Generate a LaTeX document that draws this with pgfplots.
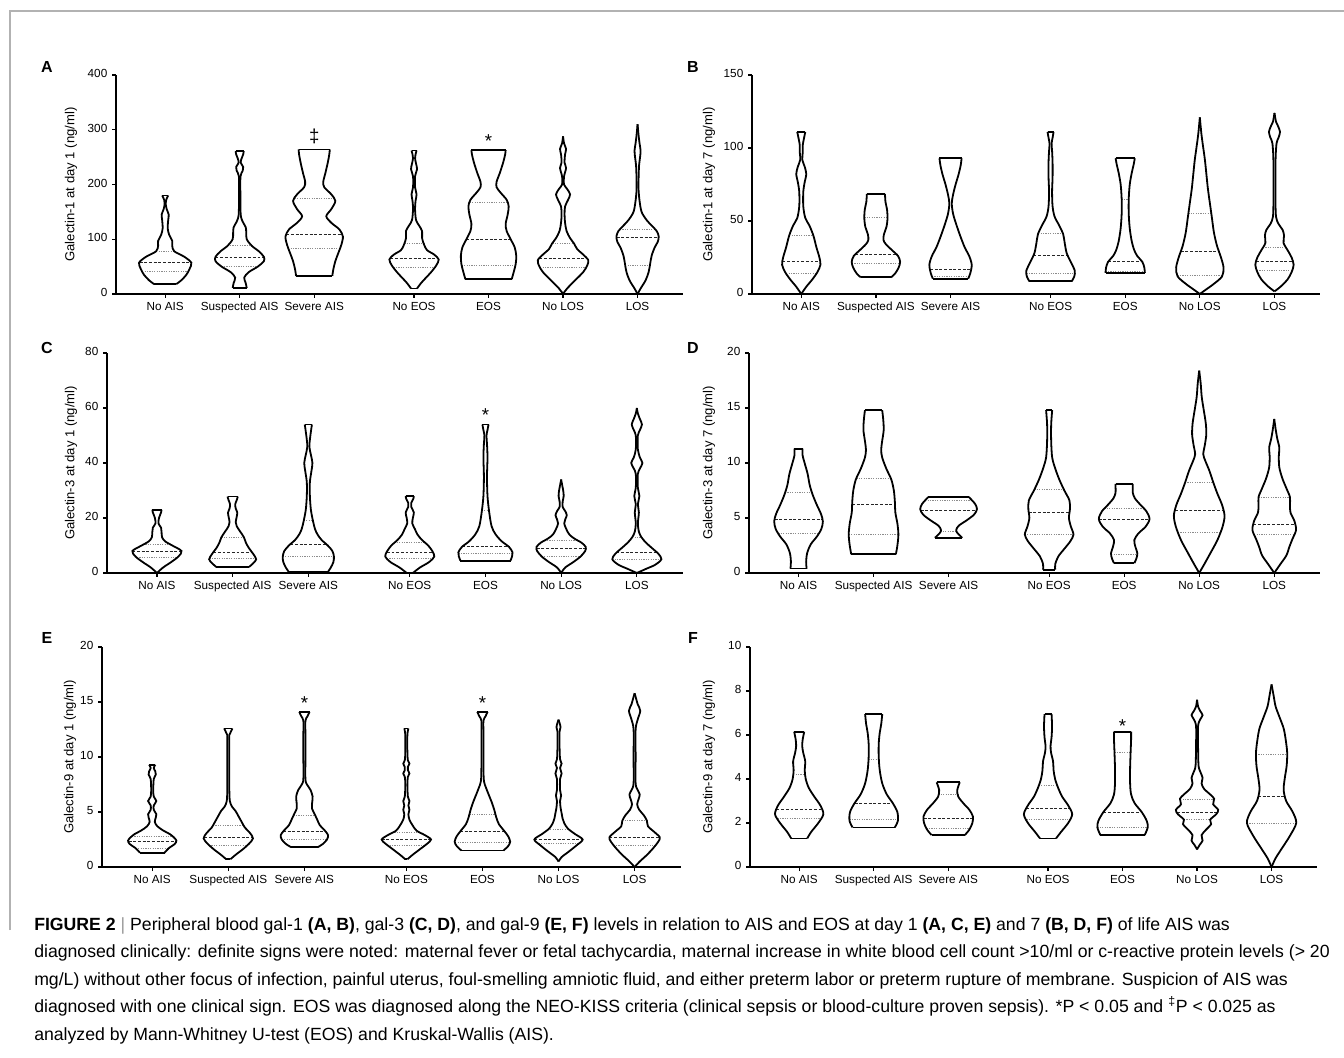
\documentclass[border=0pt]{standalone}
\usepackage{fontspec}
\setmainfont{Liberation Sans}
\newfontfamily\capfont{Liberation Sans}
\usepackage{pgfplots}
\pgfplotsset{compat=1.18}

\newcommand\vpx{74}
\newcommand\vinterp[2]{%
  \gdef\vq{0}\gdef\vpy{-9999}\gdef\vpw{0}%
  \foreach \yy/\ww in {#2}{%
    \pgfmathtruncatemacro\vflag{(\vpy<=#1)&&(\yy>=#1)?1:0}%
    \ifnum\vflag=1
      \pgfmathsetmacro\vt{(#1-\vpy)/(\yy-\vpy)}%
      \pgfmathsetmacro\vqq{\vpw+(\ww-\vpw)*\vt}%
      \xdef\vq{\vqq}%
    \fi
    \xdef\vpy{\yy}\xdef\vpw{\ww}%
  }%
}
\newcommand\vqline[4]{%
  \pgfmathtruncatemacro\vqskip{(#3<0)?1:0}%
  \ifnum\vqskip=0
    \vinterp{#3}{#2}%
    \pgfmathsetmacro\vxr{#1+\vq/\vpx}\pgfmathsetmacro\vxl{#1-\vq/\vpx}%
    \edef\vcmd{\noexpand\addplot[#4] coordinates {(\vxl,#3)(\vxr,#3)};}\vcmd
  \fi}
\newcommand\violin[5]{%
  \gdef\vR{}\gdef\vL{}\gdef\vbot{}\gdef\vtop{}%
  \foreach \yy/\ww in {#2}{%
    \pgfmathsetmacro\vxr{#1+\ww/\vpx}%
    \pgfmathsetmacro\vxl{#1-\ww/\vpx}%
    \xdef\vR{\vR(\vxr,\yy)}%
    \xdef\vL{\vL(\vxl,\yy)}%
    \ifx\vbot\empty \xdef\vbot{(\vxl,\yy)(\vxr,\yy)}\fi
    \xdef\vtop{(\vxl,\yy)(\vxr,\yy)}%
  }%
  \vqline{#1}{#2}{#3}{vmed}%
  \vqline{#1}{#2}{#4}{vqrt}%
  \vqline{#1}{#2}{#5}{vqrt}%
  \edef\vcmd{\noexpand\addplot[vio] coordinates {\vR};
    \noexpand\addplot[vio] coordinates {\vL};
    \noexpand\addplot[vcap] coordinates {\vbot};
    \noexpand\addplot[vcap] coordinates {\vtop};}%
  \vcmd
}

\pgfplotsset{
  vio/.style={black, line width=1.35pt, smooth, mark=none},
  vcap/.style={black, line width=1.35pt, mark=none},
  vmed/.style={black!85, line width=0.65pt, dash pattern=on 2.2pt off 1.3pt, mark=none},
  vqrt/.style={black!45, line width=0.65pt, dash pattern=on 0.9pt off 0.9pt, mark=none},
  vplot/.style={scale only axis, anchor=south west, xmin=0.34, xmax=7.95, ymin=0,
    axis x line*=bottom, axis y line*=left, axis line style={-, line width=1.3pt},
    xtick={1,2,3,4.34,5.34,6.34,7.34},
    xticklabels={No AIS,Suspected AIS,Severe AIS,No EOS,EOS,No LOS,LOS},
    typeset ticklabels with strut,
    tick align=outside, major tick length=3pt, tick style={black, line width=0.9pt},
    minor tick num=0, tick label style={font=\fontsize{8.8}{10}\selectfont},
    xticklabel style={yshift=1pt},
    /pgf/number format/assume math mode=true, clip=false, scaled y ticks=false},
}
\newcommand\ylab[3]{\node[rotate=90, font=\fontsize{9.8}{11}\selectfont] at (#1,#2) {#3};}
\newcommand\plet[3]{\node[font=\fontsize{12}{14}\selectfont\bfseries] at (#1,#2) {#3};}
\newcommand\ann[3]{\node[font=\fontsize{14}{15}\selectfont] at (axis cs:#1,#2) {#3};}

\begin{document}
\begin{tikzpicture}
\path[use as bounding box, fill=white] (0,0) rectangle (1008pt,792.75pt);
\draw[black!30, line width=0.9pt] (7.5pt,95.25pt) -- (7.5pt,784.5pt) -- (1008pt,784.5pt);

% ---------------- A ----------------
\begin{axis}[vplot, at={(87pt,572.25pt)}, width=425.25pt, height=164.25pt, ymax=400, ytick={0,100,200,300,400}]
\violin{1}{18/11, 25/16, 35/21, 45/24, 57/26, 68/19, 78/9, 88/7, 97/7, 108/4, 120/2.5, 135/3, 145/3.5, 155/1.5, 165/0.5, 172/1, 180/3}{58}{41}{78}
\violin{2}{11/7, 20/6, 30/4.5, 40/9, 50/18, 60/24, 68/24, 78/19, 88/12, 100/7, 112/6.5, 122/6, 132/3, 145/1, 180/0.7, 215/0.8, 225/3, 232/3.5, 240/1, 248/2, 255/3.5, 261/4}{67}{50}{88}
\violin{3}{33/18, 45/19, 60/21, 75/24, 90/27, 105/28.5, 118/25, 130/17, 142/12, 155/17, 170/21, 182/17, 195/10, 205/9, 220/11, 240/13.5, 255/15, 264/15.5}{108}{84}{175}
\violin{4.34}{10/3, 20/7, 30/12, 40/17, 52/22, 63/24.5, 72/20, 80/13, 90/10, 102/8, 115/8, 125/5, 135/2, 155/1, 170/1.5, 182/2.5, 195/1, 215/1, 228/3, 238/2, 248/1, 255/1.5, 262/2.5}{65}{48}{92}
\violin{5.34}{27/23, 40/25, 55/27, 70/27.5, 85/26, 100/22, 115/18, 128/17, 145/19, 160/20, 172/18, 185/12, 195/8, 205/8, 220/11, 240/14.5, 255/16.5, 263/17}{100}{52}{168}
\violin{6.34}{0/0, 10/4, 25/12, 40/20, 52/24, 62/25, 72/20, 82/14, 92/11, 102/7, 115/3.5, 130/2, 145/1.5, 160/2, 172/5, 182/7, 192/4, 200/1, 215/1, 230/3, 240/1.5, 255/2, 265/3, 275/1, 288/0}{65}{48}{93}
\violin{7.34}{0/0, 10/3, 25/8, 40/11, 55/12.5, 70/14, 85/17, 95/20, 105/21, 115/19, 125/14, 135/9, 150/4, 170/2, 190/1, 210/1, 235/1.5, 250/2.5, 262/3, 275/2, 290/1, 310/0}{103}{53}{118}
\ann{3}{288}{‡}
\ann{5.34}{279}{*}
\end{axis}

% ---------------- B ----------------
\begin{axis}[vplot, at={(564pt,572.25pt)}, width=426pt, height=164.25pt, ymax=150, ytick={0,50,100,150}]
\violin{1}{0/0, 5/5, 10/11, 15/16, 20/19, 25/18, 32/15, 40/12, 47/8, 52/4, 60/2, 70/2, 77/3.5, 82/5, 87/3.5, 92/1, 97/1.5, 102/1.5, 106/2.5, 111/4}{22}{14}{40}
\violin{2}{11.4/15, 14/19, 18/22.5, 22/24, 26/22, 30/16, 34/10, 37/7.5, 41/8, 46/10.5, 52/11.5, 58/11, 63/9.5, 68.5/9}{27}{21}{52.5}
\violin{3}{10.5/17.5, 14/19.5, 20/21, 26/18.5, 32/14, 40/9.5, 48/5.5, 55/2.5, 62/1.2, 68/2.5, 75/5, 82/8, 88/10, 93/11}{17}{12}{-1}
\violin{4.34}{8.7/21, 12/23.5, 16/24, 22/20, 28/16, 35/14, 41/12.5, 47/8.5, 53/4, 60/2, 70/1.5, 80/2, 90/2, 98/1.5, 103/1, 107/2, 111/3}{26.5}{14}{41.3}
\violin{5.34}{14.4/19.5, 18/19, 22/17, 26/12, 30/9, 36/6.5, 45/4.5, 55/3.5, 65/3.5, 75/4.5, 83/6.5, 89/8.5, 93/9.5}{22}{15.5}{65}
\violin{6.34}{0/0, 3/6, 7/14, 12/22, 18/23.5, 25/21, 33/17, 42/14, 52/12, 62/10, 72/8, 82/6.5, 92/5, 102/3, 110/1.5, 121/0}{29}{12.5}{55.5}
\violin{7.34}{1.8/0, 5/6, 10/13, 15/17, 20/19, 25/17, 30/13, 35/9, 40/9.5, 44/8, 48/4, 53/1.5, 65/1, 90/1, 103/2, 107/4, 111/5.5, 115/3.5, 118/1.5, 124/0}{22.5}{16}{32}
\end{axis}

% ---------------- C ----------------
\begin{axis}[vplot, at={(80.25pt,363pt)}, width=432pt, height=165pt, ymax=80, ytick={0,20,40,60,80}]
\violin{1}{0/0, 2/6, 4/14, 6/21, 8/24, 10/15, 11.5/8, 13/5, 15/4.5, 16.5/4, 18/1.5, 20/2, 22/4, 23/4.5}{8}{5.6}{10.3}
\violin{2}{2.2/16, 3.5/20, 5/23, 7/20, 9/16, 11/13, 13/11, 15/7.5, 17/4, 18.5/3, 20.5/4, 22/4.5, 23.5/3, 25/2.5, 26.5/4, 27.8/5}{7.5}{5.3}{13}
\violin{3}{0.3/19, 2/22, 4/24.5, 6/25, 8/23.5, 10/19, 12/13, 14/9, 16/6.5, 19/4.5, 23/2.5, 28/1.5, 33/1.5, 37/3, 40/4, 43/2.5, 46/1, 50/2, 54/3.5}{10.5}{6}{19}
\violin{4.34}{0/3, 2/10, 4/19, 6/24, 8/22, 10/18, 12/12, 14/7.5, 16/5, 18/2.5, 20/3, 22/4, 24/1.5, 25.5/1.5, 27/3.5, 28/4}{7.6}{5.3}{11}
\violin{5.34}{4.5/24.5, 6/26, 7.5/26.5, 9.5/23, 11.5/16, 14/10, 17/6, 22.6/3.5, 28/2, 35/1.5, 42/2, 47/1.5, 50/1, 52/2, 54/3}{9.5}{7}{22.6}
\violin{6.34}{0/0, 2/4, 4/12, 6/19, 8/23.5, 9.5/24, 11/20, 12.5/13, 14/8, 16/5, 18/3, 19.5/4, 21/5.5, 22.5/4, 24/1.5, 26/1.5, 28/2.5, 30/2, 32/1, 34/0}{9}{6}{11.8}
\violin{7.34}{0/0, 1.5/9, 3/18, 5/24, 7/21, 9/15, 11/9, 13/4.5, 15/2, 18/1, 22/2, 25/1, 28/2.5, 31/1, 36/1, 38/3, 40/5.5, 42/3, 45/1, 50/1, 52/3, 54/5, 56/3, 58/1, 60/0}{7.3}{5}{13}
\ann{5.34}{57.5}{*}
\end{axis}

% ---------------- D ----------------
\begin{axis}[vplot, at={(561.75pt,363pt)}, width=428.25pt, height=165pt, ymax=20, ytick={0,5,10,15,20}]
\violin{1}{0.4/8, 1/7.5, 1.8/8.5, 2.6/12, 3.3/18, 4/22.5, 4.7/24, 5.4/22, 6.2/18, 7.1/14, 8/11, 9/9, 10/6, 10.7/4, 11.3/4}{4.9}{3.6}{7.3}
\violin{2}{1.7/22, 2.5/23.5, 3.5/24.5, 4.5/23.5, 5.5/21.5, 6.5/21, 7.5/20, 8.5/17.5, 9.5/12.5, 10.5/8.5, 11.2/7.5, 12/8.5, 13/10, 14/9.5, 14.8/8.5}{6.2}{3.5}{8.6}
\violin{3}{3.2/13.5, 3.6/9, 3.9/7.5, 4.3/10, 4.8/18, 5.3/25, 5.8/28, 6.3/26, 6.9/20}{5.7}{3.8}{6.6}
\violin{4.34}{0.3/6, 0.8/6, 1.5/9, 2.2/15, 2.9/21, 3.5/24, 4.2/21.5, 5/19.5, 5.8/20.5, 6.6/20, 7.5/15, 8.5/10, 9.5/6, 10.5/3, 12/2, 13.5/2, 14.8/3}{5.5}{3.5}{7.6}
\violin{5.34}{0.9/10, 1.3/12, 1.8/13, 2.4/11, 3/10, 3.6/14, 4.2/21, 4.9/25, 5.6/22, 6.2/16, 6.8/10.5, 7.3/8.5, 7.8/8.5, 8.1/8.5}{4.9}{1.7}{5.85}
\violin{6.34}{0/0, 0.8/5, 1.8/11, 3/18, 4.2/23, 5.2/25, 6.2/22.5, 7.2/18, 8.2/14, 9.3/10, 10.2/6, 10.8/4, 11.6/5.5, 12.6/7, 13.6/6.5, 14.8/4.5, 16/2.5, 17.2/1.5, 18.4/0}{5.7}{3.7}{8.2}
\violin{7.34}{0/0, 0.8/6, 1.6/12, 2.4/15, 3.1/18, 3.9/21.5, 4.7/20, 5.5/16, 6.2/15.5, 6.9/15.5, 7.7/12, 8.6/8, 9.6/5, 10.6/4.5, 11.4/5, 12.2/3, 13/1.5, 14/0}{4.4}{3.5}{6.9}
\end{axis}

% ---------------- E ----------------
\begin{axis}[vplot, at={(76.5pt,142.5pt)}, width=434.25pt, height=165pt, ymax=20, ytick={0,5,10,15,20}]
\violin{1}{1.3/12, 1.7/16, 2.1/22, 2.4/23.5, 2.7/21, 3/17, 3.3/11, 3.7/5, 4.1/2.5, 4.5/3.5, 4.8/4, 5.2/1.5, 5.6/1.5, 6/4, 6.4/1.5, 7/1, 8/1.5, 8.4/3.5, 8.7/3, 9/1.5, 9.3/3}{2.3}{1.7}{2.8}
\violin{2}{0.7/2, 1.1/7, 1.6/14, 2.1/20, 2.6/24, 3.1/21, 3.6/16, 4.1/13, 4.6/10, 5.1/7, 5.5/3.5, 6/1.5, 7/1, 9/1, 11/1, 12/1, 12.3/2.5, 12.6/4}{2.7}{2}{3.8}
\violin{3}{1.8/13, 2.1/18, 2.5/22, 2.9/23, 3.3/20, 3.8/15, 4.3/12.5, 4.8/10, 5.3/7.5, 5.8/7.5, 6.4/8, 7/6, 7.5/2.5, 8/1, 10/1, 12/1, 13.3/1, 13.7/3, 14.1/5}{3.2}{2.5}{4.7}
\violin{4.34}{0.7/1, 1.1/6, 1.6/13, 2.1/20, 2.5/24, 2.9/18, 3.3/10, 3.8/6, 4.3/3, 4.8/2, 5.2/3, 5.6/2, 6/3, 6.4/1.5, 7.5/1, 8.2/1.5, 8.5/3, 8.8/1.5, 9.1/1.5, 9.4/3, 9.7/1.5, 10.5/1, 12/1, 12.6/2}{2.5}{2}{3.1}
\violin{5.34}{1.5/20.5, 1.9/25, 2.3/27, 2.8/25, 3.3/21, 3.9/16, 4.5/13.5, 5.2/11.5, 5.9/9, 6.6/6, 7.2/3.5, 7.8/1.5, 9/1, 12/1, 13.3/1, 13.7/3, 14.1/5}{3.2}{2.2}{4.8}
\violin{6.34}{0.5/0, 0.9/3, 1.4/10, 2/18, 2.5/23.5, 3/16, 3.5/9, 4/5.5, 4.4/4, 4.9/3, 5.4/2, 6/1.5, 6.5/2.5, 7/1.5, 8/1.5, 8.5/3, 9/1.5, 9.4/3, 9.8/1.5, 11/1, 12.3/1, 12.7/2, 13.1/1, 13.4/0}{2.5}{2.1}{3.4}
\violin{7.34}{0/0, 0.5/5, 1.1/12, 1.7/18, 2.3/23, 2.7/24.5, 3.2/19, 3.7/13, 4.2/12, 4.7/9, 5.2/4.5, 5.7/2.5, 6.2/4, 6.6/5, 7/3, 7.6/1, 10/1, 12.5/1, 13.4/3, 14.2/5.5, 14.8/3, 15.3/1.5, 15.8/0}{2.7}{2}{4.2}
\ann{3}{14.9}{*}
\ann{5.34}{14.9}{*}
\end{axis}

% ---------------- F ----------------
\begin{axis}[vplot, at={(562.5pt,142.5pt)}, width=425.25pt, height=165pt, ymax=10, ytick={0,2,4,6,8,10}]
\violin{1}{1.3/8, 1.6/12, 2/19, 2.4/24, 2.8/21, 3.2/15, 3.6/9.5, 4/6.5, 4.4/5.5, 4.8/6, 5.2/4, 5.5/3, 5.8/3.5, 6.15/5}{2.6}{2.2}{4.2}
\violin{2}{1.8/21, 2.1/24, 2.5/23.5, 2.9/19, 3.3/13, 3.8/8.5, 4.4/6, 5/5, 5.6/5, 6.1/6, 6.5/7.5, 6.95/8.5}{2.9}{2.15}{4.9}
\violin{3}{1.45/16.5, 1.7/21, 2/24, 2.3/24.5, 2.6/21, 2.9/15, 3.2/10, 3.5/9, 3.85/11.5}{2.2}{1.75}{3.3}
\violin{4.34}{1.3/8, 1.6/13, 2/20, 2.4/24, 2.8/20, 3.2/14, 3.6/10, 4/7, 4.4/5.5, 4.8/5, 5.2/3, 5.5/2.5, 5.9/3.5, 6.4/4, 6.95/3.5}{2.65}{2.15}{3.7}
\violin{5.34}{1.45/22, 1.8/25, 2.1/24, 2.5/19, 2.9/12, 3.3/8.5, 3.8/7.5, 4.5/7.5, 5.2/8, 5.8/8.5, 6.15/8.5}{2.5}{1.8}{5.2}
\violin{6.34}{0.8/0, 1/2.5, 1.2/5.5, 1.45/4.5, 1.7/9, 1.95/14, 2.15/13, 2.4/19, 2.6/21, 2.85/16, 3.1/17, 3.3/13, 3.55/7, 3.8/4.5, 4.05/5.5, 4.3/3.5, 4.6/1.5, 5.5/1, 6.4/1, 6.7/3, 6.9/5.5, 7.1/3, 7.3/1, 7.6/0}{2.5}{2.15}{3.05}
\violin{7.34}{0/0, 0.4/4, 0.9/11, 1.4/18, 2/24.5, 2.5/21, 3/14.5, 3.5/12, 4/13, 4.6/15, 5.2/15.5, 5.8/14, 6.3/12, 6.8/8, 7.3/4, 7.8/2, 8.3/0}{3.2}{2}{5.1}
\ann{5.34}{6.4}{*}
\end{axis}

% labels
\ylab{53.25pt}{654.375pt}{Galectin-1 at day 1 (ng/ml)}
\ylab{531.75pt}{654.375pt}{Galectin-1 at day 7 (ng/ml)}
\ylab{53.25pt}{445.5pt}{Galectin-3 at day 1 (ng/ml)}
\ylab{531.75pt}{445.5pt}{Galectin-3 at day 7 (ng/ml)}
\ylab{52.5pt}{225pt}{Galectin-9 at day 1 (ng/ml)}
\ylab{531.75pt}{225pt}{Galectin-9 at day 7 (ng/ml)}
\plet{35.25pt}{742.5pt}{A}
\plet{519.75pt}{742.5pt}{B}
\plet{35.25pt}{531.75pt}{C}
\plet{519.75pt}{531.75pt}{D}
\plet{35.25pt}{314.25pt}{E}
\plet{519.75pt}{314.25pt}{F}

% caption
\begin{scope}[every node/.style={anchor=base west, inner sep=0pt, font=\capfont\fontsize{13.25}{15}\selectfont}]
\node at (25.5pt,95.25pt) {{\bfseries FIGURE 2} {\color{black!40}|} Peripheral blood gal-1 {\bfseries (A, B)}, gal-3 {\bfseries (C, D)}, and gal-9 {\bfseries (E, F)} levels in relation to AIS and EOS at day 1 {\bfseries (A, C, E)} and 7 {\bfseries (B, D, F)} of life AIS was};
\node at (25.5pt,74.625pt) {diagnosed clinically: definite signs were noted: maternal fever or fetal tachycardia, maternal increase in white blood cell count >10/ml or c-reactive protein levels (> 20};
\node at (25.5pt,54pt) {mg/L) without other focus of infection, painful uterus, foul-smelling amniotic fluid, and either preterm labor or preterm rupture of membrane. Suspicion of AIS was};
\node at (25.5pt,33.375pt) {diagnosed with one clinical sign. EOS was diagnosed along the NEO-KISS criteria (clinical sepsis or blood-culture proven sepsis). *P < 0.05 and \textsuperscript{‡}P < 0.025 as};
\node at (25.5pt,12.75pt) {analyzed by Mann-Whitney U-test (EOS) and Kruskal-Wallis (AIS).};
\end{scope}
\end{tikzpicture}
\end{document}
